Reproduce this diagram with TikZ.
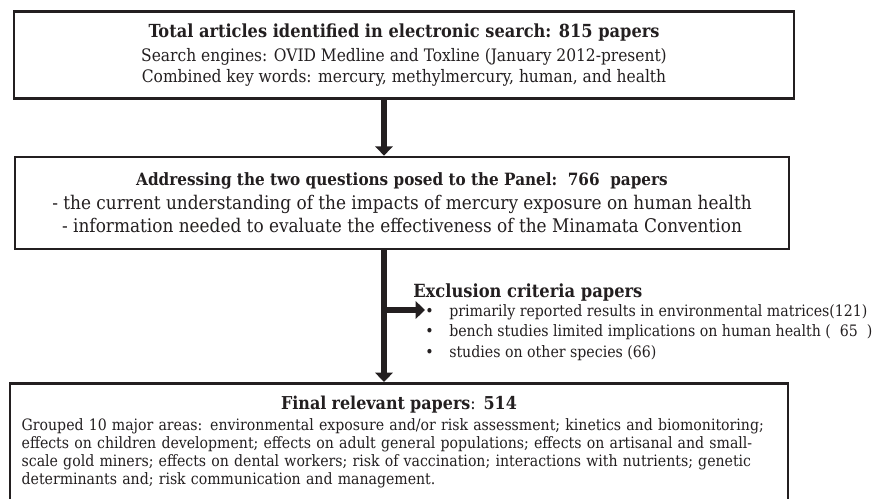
\documentclass[tikz,border=0pt]{standalone}
\usepackage{fontspec}
\setmainfont{DejaVu Serif Condensed}
\usetikzlibrary{arrows.meta}
\definecolor{ink}{HTML}{231F20}

\begin{document}
\begin{tikzpicture}[x=0.75pt, y=-0.75pt]
    % Define styles
    \tikzstyle{box} = [rectangle, draw=ink, line width=2pt, fill=white, text=ink, inner sep=0pt]
    \tikzstyle{note} = [inner sep=0pt, text=ink]
    \tikzstyle{arrow} = [draw=ink, line width=4.5pt, -{Triangle[width=13pt,length=7pt]}]

    \useasboundingbox (0,0) rectangle (875,499);

    % Nodes
    \node (search) [box, minimum width=585pt, minimum height=65.25pt, align=center,
        font=\fontsize{12.9}{15.4}\selectfont] at (404,55)
        {{\fontsize{13.5}{15}\selectfont\bfseries Total articles identified in electronic search: 815 papers}\\[2.5pt]
        Search engines: OVID Medline and Toxline (January 2012-present)\\
        Combined key words: mercury, methylmercury, human, and health};
    \node (panel) [box, minimum width=580.5pt, minimum height=69pt, align=center,
        font=\fontsize{14.1}{17.25}\selectfont] at (402,203)
        {{\fontsize{12.7}{14}\selectfont\bfseries Addressing the two questions posed to the Panel:\ \ 766\ \ papers}\\[0.5pt]
        - the current understanding of the impacts of mercury exposure on human health\\
        - information needed to evaluate the effectiveness of the Minamata Convention};
    \node (final) [box, anchor=north, text width=566pt, inner xsep=8.75pt, inner ysep=9.5pt, align=left,
        font=\fontsize{11.75}{13.5}\selectfont] at (399,382)
        {{\centering\fontsize{13.3}{15.75}\selectfont\textbf{Final relevant papers}: \textbf{514}\par}\vspace{2pt}
        Grouped 10 major areas: environmental exposure and/or risk assessment; kinetics and biomonitoring;\\
        effects on children development; effects on adult general populations; effects on artisanal and small-\\
        scale gold miners; effects on dental workers; risk of vaccination; interactions with nutrients; genetic\\
        determinants and; risk communication and management.\par\vspace{12pt}};

    \node (exclhead) [note, anchor=west, font=\fontsize{13.6}{15}\selectfont\bfseries] at (413,292)
        {Exclusion criteria papers};
    \node (excl) [note, anchor=north west, align=left, font=\fontsize{11.8}{15.4}\selectfont] at (425,304)
        {\makebox[18pt][l]{\textbullet}primarily reported results in environmental matrices(121)\\
        \makebox[18pt][l]{\textbullet}bench studies limited implications on human health (\ \ 65\ \ )\\
        \makebox[18pt][l]{\textbullet}studies on other species (66)};

    % Arrows
    \coordinate (stem) at (384,310);
    \draw [arrow] (stem |- search.south) -- (stem |- panel.north);
    \draw [arrow] (stem |- panel.south) -- (stem |- final.north);
    \draw [arrow] (stem) -- (stem -| excl.west);
\end{tikzpicture}
\end{document}
